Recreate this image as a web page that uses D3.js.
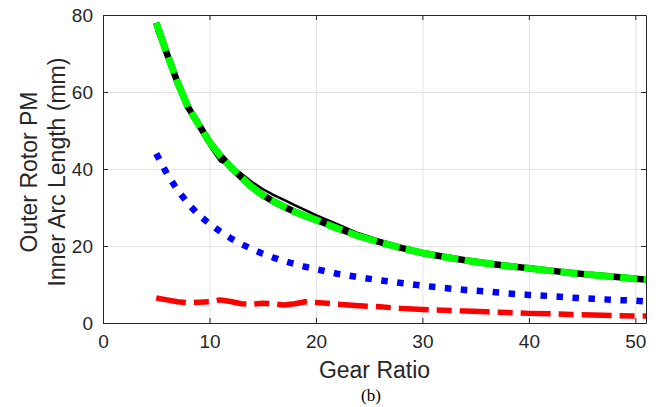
<!DOCTYPE html>
<html lang="en">
<head>
<meta charset="UTF-8">
<title>Gear Ratio</title>
<style>
    body { margin: 0; background: #fff; }
    svg { display: block; font-family: "Liberation Sans", Arial, sans-serif; }
    .grid line { stroke: #e3e3e3; stroke-width: 1px; }
    .grid path { display: none; }
    .axis path, .axis line { stroke: #262626; stroke-width: 1px; }
    .axis text { fill: #262626; font-size: 19px; font-family: "Liberation Sans", Arial, sans-serif; }
    .lbl { fill: #262626; font-size: 23px; }
    .line { fill: none; stroke-linejoin: round; }
</style>
</head>
<body>
<svg width="668" height="407"></svg>
<script src="https://cdn.jsdelivr.net/npm/d3@7"></script>
<script>
// gear ratios where each series was sampled
var ratios = [5,6,7,8,9,10,11,12,13,14,15,16,17,18,19,20,22,24,26,28,30,32,34,36,38,40,42,44,46,48,50,51];
// inner arc length (mm) per series
var solidBlack = [76,69,62,56,51,46,42,40.8,38.8,36.6,34.8,33.3,32,30.6,29.3,28,25.7,23.3,21.5,19.9,18.4,17.3,16.4,15.6,14.9,14.2,13.6,13.0,12.5,12.0,11.5,11.3];
var dashGreen = [78,70,62.5,56,51.5,47,43.5,40.5,37.8,35.3,33.2,31.6,30.2,28.9,27.8,26.8,24.6,22.6,21,19.5,18.2,17.2,16.3,15.5,14.8,14.2,13.6,13.0,12.5,12.0,11.5,11.3];
var dotBlue = [44,38.8,34.5,31,28,25.8,23.8,22,20.5,19.2,18,17,16.1,15.3,14.6,14,12.8,11.9,11.1,10.4,9.7,9.1,8.6,8.2,7.7,7.3,7,6.6,6.3,6,5.8,5.6];
var dashRed = [6.5,6,5.5,5.3,5.4,5.5,6,5.6,5,4.9,5.1,5,4.7,5,5.5,5.3,4.9,4.5,4.2,3.8,3.5,3.3,3.1,2.9,2.7,2.5,2.4,2.2,2.1,1.9,1.8,1.8];
var xTicks = [0,10,20,30,40,50];
var yTicks = [0,20,40,60,80];

var svg = d3.select("svg"),
    margin = {top: 15, right: 22, bottom: 84, left: 103},
    width = +svg.attr("width") - margin.left - margin.right,
    height = +svg.attr("height") - margin.top - margin.bottom;

var x = d3.scaleLinear().domain([0, 51]).range([0, width]),
    y = d3.scaleLinear().domain([0, 80]).range([height, 0]);

var g = svg.append("g").attr("transform", "translate(" + margin.left + "," + margin.top + ")");

g.append("clipPath").attr("id", "clip")
    .append("rect").attr("width", width).attr("height", height);

// grid
g.append("g").attr("class", "grid")
    .attr("transform", "translate(0," + height + ")")
    .call(d3.axisBottom(x).tickValues(xTicks).tickSize(-height).tickFormat(""));
g.append("g").attr("class", "grid")
    .call(d3.axisLeft(y).tickValues(yTicks).tickSize(-width).tickFormat(""));

// lines
function series(vals) {
    return vals.map(function (v, i) { return [ratios[i], v]; });
}
var line = d3.line()
    .x(function (d) { return x(d[0]); })
    .y(function (d) { return y(d[1]); });

var plot = g.append("g").attr("clip-path", "url(#clip)");

plot.append("path").datum(series(dashRed)).attr("class", "line")
    .attr("d", line).attr("stroke", "#ff0000").attr("stroke-width", 5.5)
    .attr("stroke-dasharray", "30,8,15,8").attr("stroke-linejoin", "miter");
plot.append("path").datum(series(dotBlue)).attr("class", "line")
    .attr("d", line).attr("stroke", "#0000ff").attr("stroke-width", 6.5)
    .attr("stroke-dasharray", "6.5,9.5");
plot.append("path").datum(series(solidBlack)).attr("class", "line")
    .attr("d", line).attr("stroke", "#000").attr("stroke-width", 2.5);
// black showing through the gaps of the green line
plot.append("path").datum(series(dashGreen)).attr("class", "line")
    .attr("d", line).attr("stroke", "#000").attr("stroke-width", 6.5)
    .attr("stroke-linejoin", "miter");
plot.append("path").datum(series(dashGreen)).attr("class", "line")
    .attr("d", line).attr("stroke", "#00ff00").attr("stroke-width", 7)
    .attr("stroke-dasharray", "30,6.5,17,6.5").attr("stroke-linejoin", "miter");

// axes box with inward ticks
g.append("g").attr("class", "axis")
    .attr("transform", "translate(0," + height + ")")
    .call(d3.axisBottom(x).tickValues(xTicks).tickSizeInner(-5).tickSizeOuter(0).tickPadding(12));
g.append("g").attr("class", "axis")
    .call(d3.axisTop(x).tickValues(xTicks).tickSizeInner(-5).tickSizeOuter(0).tickFormat(""));
g.append("g").attr("class", "axis")
    .call(d3.axisLeft(y).tickValues(yTicks).tickSizeInner(-5).tickSizeOuter(0).tickPadding(10));
g.append("g").attr("class", "axis")
    .attr("transform", "translate(" + width + ",0)")
    .call(d3.axisRight(y).tickValues(yTicks).tickSizeInner(-5).tickSizeOuter(0).tickFormat(""));

// labels
svg.append("text").attr("class", "lbl")
    .attr("x", margin.left + width / 2).attr("y", 378)
    .attr("text-anchor", "middle").text("Gear Ratio");
svg.append("text")
    .attr("x", 371).attr("y", 401)
    .attr("text-anchor", "middle")
    .style("font-family", "'Liberation Serif', 'Times New Roman', serif")
    .style("font-size", "17px").attr("fill", "#000").text("(b)");
svg.append("text").attr("class", "lbl")
    .attr("transform", "translate(37,172) rotate(-90)")
    .attr("text-anchor", "middle").text("Outer Rotor PM");
svg.append("text").attr("class", "lbl")
    .attr("transform", "translate(65,172) rotate(-90)")
    .attr("text-anchor", "middle").text("Inner Arc Length (mm)");
</script>
</body>
</html>
